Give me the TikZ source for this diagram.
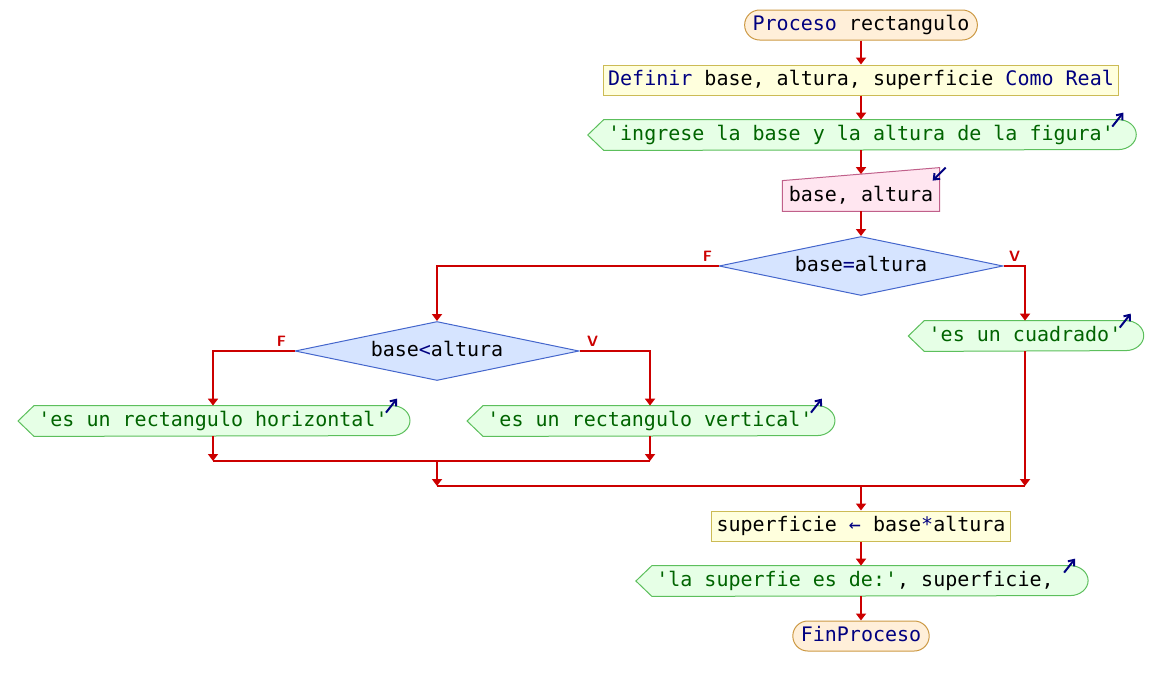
\documentclass[tikz,border=0pt]{standalone}
\usepackage{fontspec}
\setmonofont{DejaVu Sans Mono}
\usetikzlibrary{arrows.meta,shapes.geometric,backgrounds}
\definecolor{rojo}{HTML}{CC0000}
\definecolor{azul}{HTML}{000080}
\definecolor{verdeTexto}{HTML}{006400}
\definecolor{fondoTerm}{HTML}{FFEFD9}
\definecolor{bordeTerm}{HTML}{CC9944}
\definecolor{fondoProc}{HTML}{FFFFDD}
\definecolor{bordeProc}{HTML}{CCBB55}
\definecolor{fondoSal}{HTML}{E6FFE6}
\definecolor{bordeSal}{HTML}{5CBF5C}
\definecolor{fondoEnt}{HTML}{FFE6F0}
\definecolor{bordeEnt}{HTML}{C0608A}
\definecolor{fondoDec}{HTML}{D6E4FF}
\definecolor{bordeDec}{HTML}{4466CC}
\begin{document}
\begin{tikzpicture}[x=0.5pt,y=-0.5pt,
			every node/.style = {font=\ttfamily\fontsize{10}{12}\selectfont, inner xsep=2pt, inner ysep=0pt,
				minimum height=15pt, text height=7.5pt, text depth=2pt},
			terminal/.style = {draw=bordeTerm, fill=fondoTerm, line width=0.5pt, rounded corners=7.5pt, inner xsep=4pt},
			proceso/.style = {draw=bordeProc, fill=fondoProc, line width=0.5pt, inner xsep=2.5pt},
			salida/.style = {text=verdeTexto},
			entrada/.style = {inner xsep=3pt},
			decision/.style = {shape=diamond, draw=bordeDec, fill=fondoDec, line width=0.5pt, aspect=4.8,
				minimum width=142pt, minimum height=29.5pt, inner sep=0pt},
			formaSalida/.style = {draw=bordeSal, fill=fondoSal, line width=0.5pt},
			formaEntrada/.style = {draw=bordeEnt, fill=fondoEnt, line width=0.5pt},
			etiq/.style = {font=\sffamily\bfseries\fontsize{7.5}{8}\selectfont, text=rojo, minimum height=0pt,
				inner sep=0pt, text height=5pt, text depth=0pt},
			flecha/.style = {draw=rojo, line width=1pt, -{Triangle[width=5pt,length=3.5pt]}},
			linea/.style = {draw=rojo, line width=1pt},
			icono/.style = {draw=azul, line width=1pt, -{Straight Barb[length=2.5pt,width=4pt]}}]
			
			\useasboundingbox (0,0) rectangle (1162,686);
			
			\node[terminal] (ini) at (861,25) {\textcolor{azul}{Proceso} rectangulo};
			\node[proceso] (def) at (861,80) {\textcolor{azul}{Definir} base, altura, superficie \textcolor{azul}{Como Real}};
			\node[salida] (s1) at (861,135) {'ingrese la base y la altura de la figura'};
			\node[entrada] (e1) at (861,196) {base, altura};
			\node[decision] (d1) at (861,266) {base\textcolor{azul}{=}altura};
			\node[decision] (d2) at (437,351) {base\textcolor{azul}{<}altura};
			\node[salida] (s2) at (1025,336) {'es un cuadrado'};
			\node[salida] (s3) at (213,421) {'es un rectangulo horizontal'};
			\node[salida] (s4) at (650,421) {'es un rectangulo vertical'};
			\node[proceso] (asig) at (861,526) {superficie \textcolor{azul}{←} base\textcolor{azul}{*}altura};
			\node[salida] (s5) at (861,581) {'la superfie es de:'\textcolor{black}{, superficie,\ }};
			\node[terminal] (fin) at (861,636) {\textcolor{azul}{FinProceso}};
			
			\node[etiq] (f1) at ([shift={(-5.5pt,5pt)}]d1.west) {F};
			\node[etiq] (v1) at ([shift={(5.5pt,5pt)}]d1.east) {V};
			\node[etiq] (f2) at ([shift={(-6.5pt,5pt)}]d2.west) {F};
			\node[etiq] (v2) at ([shift={(6.5pt,5pt)}]d2.east) {V};
			
			\coordinate (u1) at (437,461);
			\coordinate (u2) at (861,486);
			
			\begin{scope}[on background layer]
				\foreach \n in {s1,s2,s3,s4,s5}
					\draw[formaSalida] ([xshift=-8pt]\n.west) -- (\n.north west) -- (\n.north east)
						arc[start angle=90, end angle=-90, x radius=9pt, y radius=7.5pt] -- (\n.south west) -- cycle;
				\draw[formaEntrada] (e1.south west) -- (e1.north west) -- ([yshift=6.5pt]e1.north east) -- (e1.south east) -- cycle;
			\end{scope}
			
			\foreach \n in {s1,s2,s3,s4,s5}
				\draw[icono] ([shift={(-3pt,-3.5pt)}]\n.north east) -- ([shift={(2.5pt,3.5pt)}]\n.north east);
			\draw[icono] ([shift={(3pt,6.5pt)}]e1.north east) -- ([shift={(-3.5pt,0pt)}]e1.north east);
			
			\draw[flecha] (ini) -- (def);
			\draw[flecha] (def) -- (s1);
			\draw[flecha] (s1) -- ([yshift=3.25pt]e1.north);
			\draw[flecha] (e1) -- (d1);
			\draw[flecha] (d1.west) -| (d2);
			\draw[flecha] (d1.east) -| (s2);
			\draw[flecha] (d2.west) -| (s3);
			\draw[flecha] (d2.east) -| (s4);
			\draw[flecha] (s3) -- (s3 |- u1);
			\draw[flecha] (s4) -- (s4 |- u1);
			\draw[linea] (s3 |- u1) -- (s4 |- u1);
			\draw[flecha] (u1) -- (u1 |- u2);
			\draw[flecha] (s2) -- (s2 |- u2);
			\draw[linea] (u1 |- u2) -- (s2 |- u2);
			\draw[flecha] (u2) -- (asig);
			\draw[flecha] (asig) -- (s5);
			\draw[flecha] (s5) -- (fin);
\end{tikzpicture}
\end{document}
